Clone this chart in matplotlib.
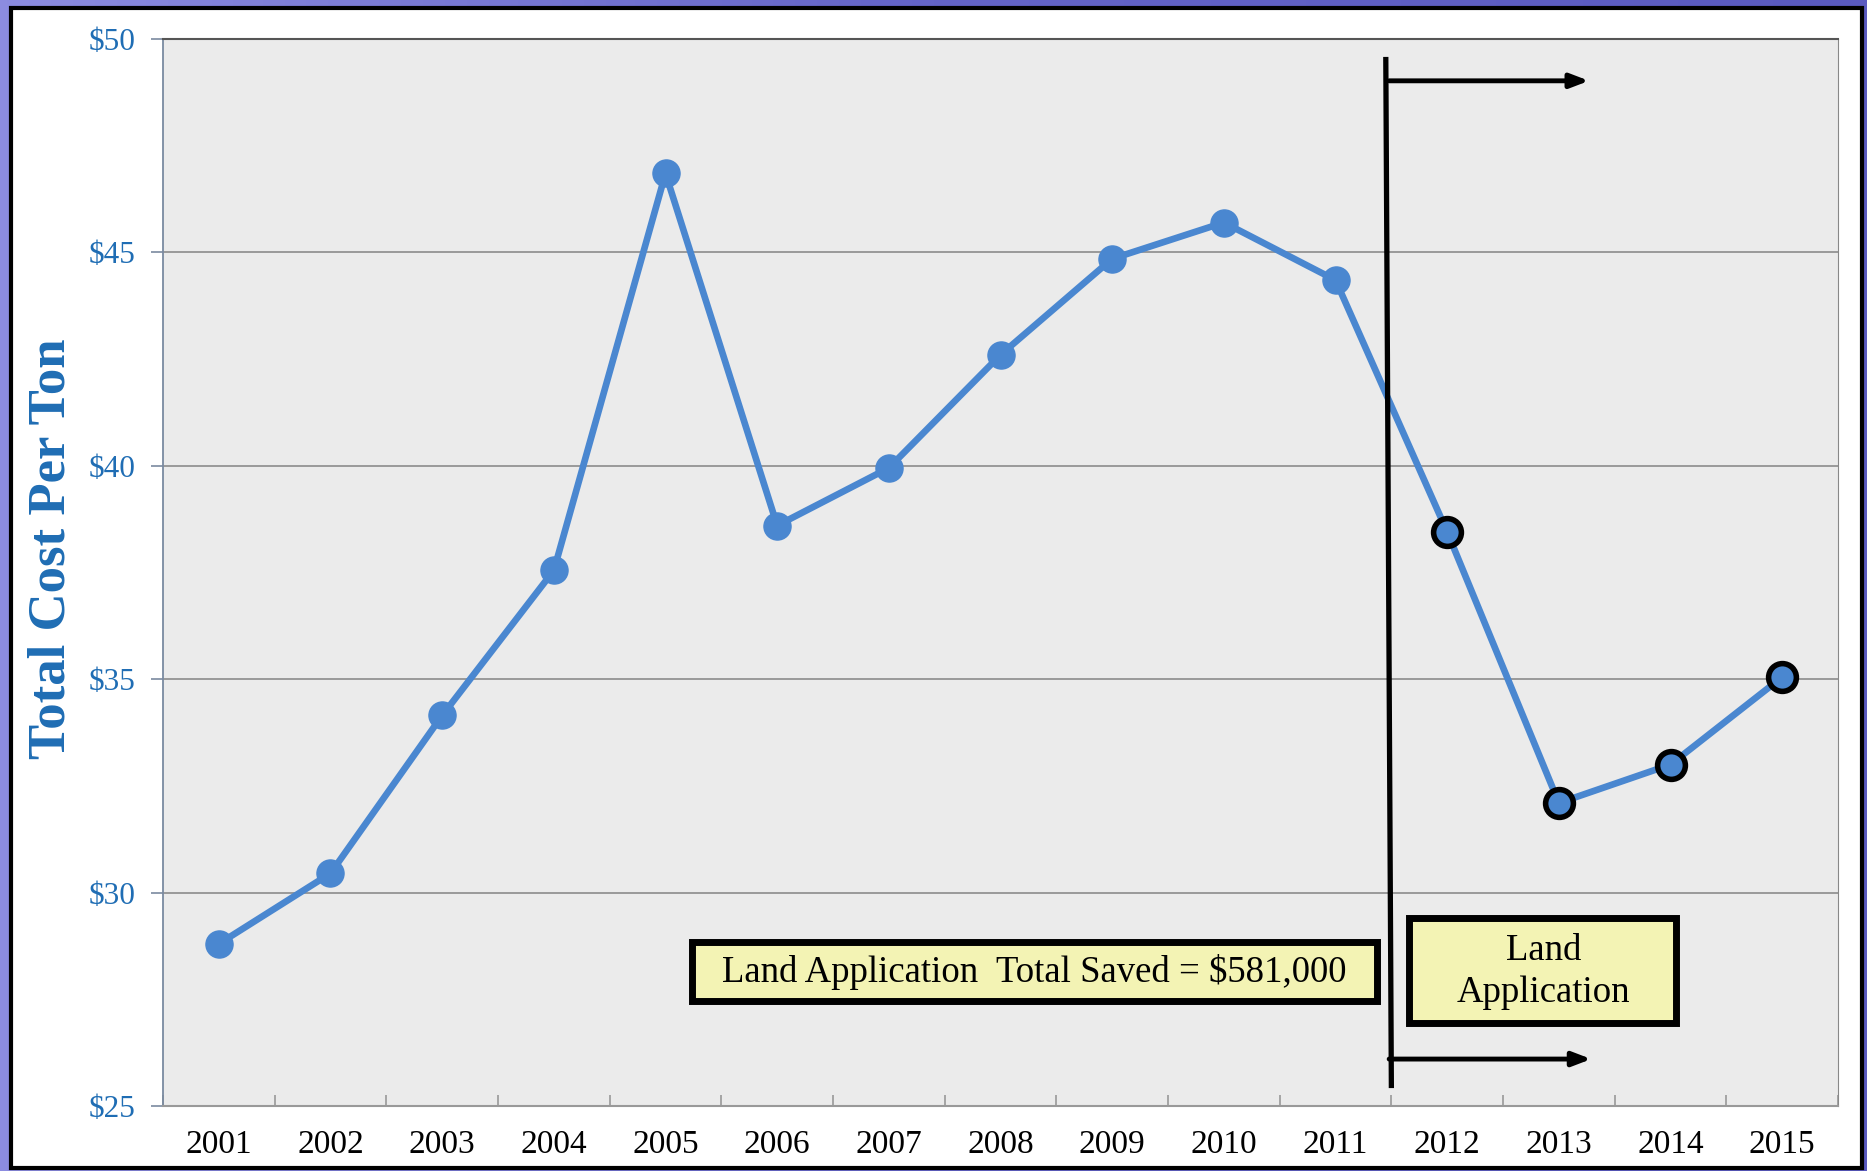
import numpy as np
import matplotlib
matplotlib.use("Agg")
import matplotlib.pyplot as plt
from matplotlib.patches import Rectangle
from matplotlib.colors import LinearSegmentedColormap

years = ["2001", "2002", "2003", "2004", "2005", "2006", "2007", "2008",
         "2009", "2010", "2011", "2012", "2013", "2014", "2015"]
cost = [28.8, 30.45, 34.15, 37.55, 46.85, 38.6, 39.95, 42.6,
        44.85, 45.7, 44.35, 38.45, 32.1, 33.0, 35.05]
n_before = 11  # years before land application (plain markers)
yticks = [25, 30, 35, 40, 45, 50]
ytick_labels = ["$25", "$30", "$35", "$40", "$45", "$50"]

serif = ["Liberation Serif", "DejaVu Serif"]
blue_txt = "#1f6db4"
line_c = "#4a87d0"

fig = plt.figure(figsize=(18.67, 11.71), dpi=100)

# slide background gradient + white panel
bg = fig.add_axes([0, 0, 1, 1], zorder=-5)
bg.imshow(np.linspace(0, 1, 256)[None, :], aspect="auto", extent=[0, 1, 0, 1],
          cmap=LinearSegmentedColormap.from_list("bg", ["#8c8ce0", "#6464c8", "#5a5ac0"]))
bg.set_axis_off()
fig.patches.append(Rectangle((0.0059, 0.0026), 0.9914, 0.9906, transform=fig.transFigure,
                             facecolor="white", edgecolor="black", linewidth=3, zorder=-1))

ax = fig.add_axes([0.0873, 0.0555, 0.8972, 0.9112])
ax.set_facecolor("#ebebeb")
x = np.arange(len(years))

ax.plot(x, cost, color=line_c, lw=4.8, zorder=3)
ax.plot(x[:n_before], cost[:n_before], "o", color=line_c, ms=19.5, zorder=4)
ax.plot(x[n_before:], cost[n_before:], "o", mfc=line_c, mec="black", mew=4, ms=20, zorder=4)

ax.set_xlim(-0.5, len(years) - 0.5)
ax.set_ylim(25, 50)
ax.set_yticks(yticks)
ax.set_yticklabels(ytick_labels, family=serif, fontsize=22.5, color=blue_txt)
ax.set_xticks(x)
ax.set_xticklabels(years, family=serif, fontsize=24, color="black")
ax.set_xticks(np.arange(-0.5, len(years)), minor=True)
ax.tick_params(axis="x", which="major", length=0, pad=17)
ax.tick_params(axis="x", which="minor", direction="in", length=8, color="#999999", width=1.2)
ax.tick_params(axis="y", length=9, color="#7a8aa0", width=1.2, pad=10.5)
ax.grid(axis="y", color="#8c8c8c", lw=1.2, zorder=1)
ax.set_axisbelow(True)
ax.spines["top"].set_color("#555555")
ax.spines["top"].set_linewidth(1.5)
ax.spines["right"].set_color("#888888")
ax.spines["bottom"].set_color("#999999")
ax.spines["bottom"].set_linewidth(1.5)
ax.spines["left"].set_color("#7a8aa0")
ax.spines["left"].set_linewidth(1.3)

ax.set_ylabel("Total Cost Per Ton", family=serif, fontsize=38, fontweight="bold",
              color=blue_txt)
ax.yaxis.set_label_coords(-0.052, 0.522)

# land application divider and arrows
ax.plot([10.45, 10.5], [49.58, 25.42], color="black", lw=3.8, zorder=5, solid_capstyle="butt")
for yy, xe in [(49.02, 12.27), (26.1, 12.29)]:
    ax.annotate("", xy=(xe, yy), xytext=(10.48, yy),
                arrowprops=dict(arrowstyle="-|>,head_length=1.1,head_width=0.42",
                                color="black", lw=3.5, shrinkA=0, shrinkB=0), zorder=5)

# text boxes
for (x0, x1, y0, y1) in [(4.24, 10.375, 27.46, 28.85), (10.66, 13.05, 26.95, 29.41)]:
    ax.add_patch(Rectangle((x0, y0), x1 - x0, y1 - y0, facecolor="#f3f3b4",
                           edgecolor="black", linewidth=5, zorder=6))
ax.text(7.3, 28.13, "Land Application  Total Saved = $581,000", family=serif, fontsize=26.5,
        ha="center", va="center", zorder=7)
ax.text(11.86, 28.14, "Land\nApplication", family=serif, fontsize=26.5,
        ha="center", va="center", linespacing=1.3, zorder=7)

fig.savefig("out.png", dpi=100)
